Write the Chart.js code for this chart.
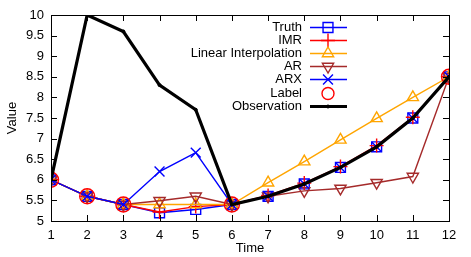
<!DOCTYPE html>
<html><head><meta charset="utf-8">
<script src="https://cdn.jsdelivr.net/npm/chart.js@4/dist/chart.umd.min.js"></script>
<style>html,body{margin:0;padding:0;background:#fff}#w{width:471px;height:257px}</style>
</head><body><div id="w"><canvas id="c" width="471" height="257"></canvas></div>
<script>
const times = [1,2,3,4,5,6,7,8,9,10,11,12];
const truth = [6,5.6,5.4,5.2,5.28,5.4,5.6,5.9,6.3,6.8,7.5,8.5];
const imr = [6,5.6,5.4,5.22,5.35,5.4,5.62,5.92,6.32,6.83,7.52,8.5];
const linearInterp = [6,5.6,5.4,5.4,5.4,5.4,5.93,6.44,6.97,7.49,8.0,8.5];
const ar = [6,5.6,5.4,5.49,5.6,5.4,5.6,5.73,5.79,5.93,6.08,8.5];
const arx = [6,5.6,5.4,6.2,6.66,5.4,5.6,5.9,6.3,6.8,7.5,8.5];
const label = [6,5.6,5.4,null,null,5.4,null,null,null,null,null,8.5];
const observation = [6,10,9.6,8.3,7.7,5.4,5.6,5.9,6.3,6.8,7.5,8.5];
const yTicks = [5,5.5,6,6.5,7,7.5,8,8.5,9,9.5,10];
const seriesNames = ['Truth','IMR','Linear Interpolation','AR','ARX','Label','Observation'];

const pts = arr => times.map((t,i)=>({x:t,y:arr[i]}));
const FONT = 'Liberation Sans, Arial, sans-serif';
const LW = 1.4;

const datasets = [
 {label:seriesNames[0],data:pts(truth),borderColor:'#0000ff',pointBorderColor:'#0000ff',backgroundColor:'transparent',borderWidth:LW,pointStyle:'rect',pointRadius:7,pointBorderWidth:LW,order:7,legendRadius:7},
 {label:seriesNames[1],data:pts(imr),borderColor:'#ff0000',pointBorderColor:'#ff0000',backgroundColor:'transparent',borderWidth:LW,pointStyle:'cross',pointRadius:7,pointBorderWidth:LW,order:6,legendRadius:7},
 {label:seriesNames[2],data:pts(linearInterp),borderColor:'#ffa500',pointBorderColor:'#ffa500',backgroundColor:'transparent',borderWidth:LW,pointStyle:'triangle',pointRadius:6.5,pointBorderWidth:LW,order:5,legendRadius:6.5},
 {label:seriesNames[3],data:pts(ar),borderColor:'#a52a2a',pointBorderColor:'#a52a2a',backgroundColor:'transparent',borderWidth:LW,pointStyle:'triangle',pointRotation:180,pointRadius:6.5,pointBorderWidth:LW,order:4,legendRadius:6.5},
 {label:seriesNames[4],data:pts(arx),borderColor:'#0000ff',pointBorderColor:'#0000ff',backgroundColor:'transparent',borderWidth:LW,pointStyle:'crossRot',pointRadius:7,pointBorderWidth:LW,order:3,legendRadius:7},
 {label:seriesNames[5],data:pts(label),showLine:false,borderColor:'#ff0000',pointBorderColor:'#ff0000',backgroundColor:'transparent',borderWidth:LW,pointStyle:'circle',pointRadius:7.5,pointBorderWidth:LW,order:2,legendRadius:6},
 {label:seriesNames[6],data:pts(observation),borderColor:'#000000',pointBorderColor:'#000000',pointBackgroundColor:'#000000',backgroundColor:'#000000',borderWidth:3.2,pointStyle:'circle',pointRadius:1.5,pointBorderWidth:1,order:1,legendRadius:1.5}
];

const framePlugin = {
 id:'frame',
 afterDatasetsDraw(chart){
  const {ctx, chartArea:a, scales:{x,y}} = chart;
  ctx.save();
  ctx.strokeStyle='#000'; ctx.lineWidth=1;
  ctx.strokeRect(a.left+0.5,a.top+0.5,a.right-a.left,a.bottom-a.top);
  ctx.beginPath();
  const tl=6;
  times.forEach(t=>{const px=Math.round(x.getPixelForValue(t))+0.5;
    ctx.moveTo(px,a.bottom);ctx.lineTo(px,a.bottom-tl);ctx.moveTo(px,a.top);ctx.lineTo(px,a.top+tl);});
  yTicks.forEach(v=>{const py=Math.round(y.getPixelForValue(v))+0.5;
    ctx.moveTo(a.left,py);ctx.lineTo(a.left+tl,py);ctx.moveTo(a.right,py);ctx.lineTo(a.right-tl,py);});
  ctx.stroke();
  // legend
  ctx.font='13px '+FONT; ctx.textBaseline='middle';
  const tx=302, lx0=310, lx1=347, mx=328, y0=27, dy=13.1;
  datasets.forEach((ds,i)=>{
    const yy=Math.round(y0+i*dy)+0.5;
    ctx.textAlign='right';
    ctx.fillStyle='#000000';
    ctx.fillText(ds.label,tx,yy);
    if(ds.showLine!==false){
      ctx.beginPath();
      ctx.strokeStyle=ds.borderColor; ctx.lineWidth=ds.borderWidth;
      ctx.moveTo(lx0,yy);ctx.lineTo(lx1,yy);ctx.stroke();
    }
    ctx.strokeStyle=ds.pointBorderColor; ctx.fillStyle=ds.pointBackgroundColor||'rgba(0,0,0,0)'; ctx.lineWidth=ds.pointBorderWidth;
    Chart.helpers.drawPoint(ctx,{pointStyle:ds.pointStyle,radius:ds.legendRadius,rotation:ds.pointRotation||0,borderWidth:ds.pointBorderWidth},mx,yy);
  });
  ctx.restore();
 }
};

new Chart(document.getElementById('c'),{
 type:'line',
 data:{datasets},
 options:{
  responsive:false,animation:false,
  layout:{padding:{top:15,right:22,left:0,bottom:0}},
  plugins:{legend:{display:false},tooltip:{enabled:false}},
  elements:{line:{tension:0}},
  scales:{
   x:{type:'linear',min:1,max:12,
      afterFit(s){s.height=36;},
      grid:{display:false,drawTicks:false},border:{display:false},
      ticks:{stepSize:1,padding:7,color:'#000',font:{family:FONT,size:13},maxRotation:0,autoSkip:false,callback:v=>String(v)},
      title:{display:true,text:'Time',color:'#000',font:{family:FONT,size:13},padding:{top:0,bottom:1}}},
   y:{type:'linear',min:5,max:10,
      afterFit(s){s.width=51;},
      grid:{display:false,drawTicks:false},border:{display:false},
      ticks:{stepSize:0.5,padding:7,color:'#000',font:{family:FONT,size:13},autoSkip:false,callback:v=>String(v)},
      title:{display:true,text:'Value',color:'#000',font:{family:FONT,size:13},padding:{top:5,bottom:0}}}
  }
 },
 plugins:[framePlugin]
});
</script></body></html>
